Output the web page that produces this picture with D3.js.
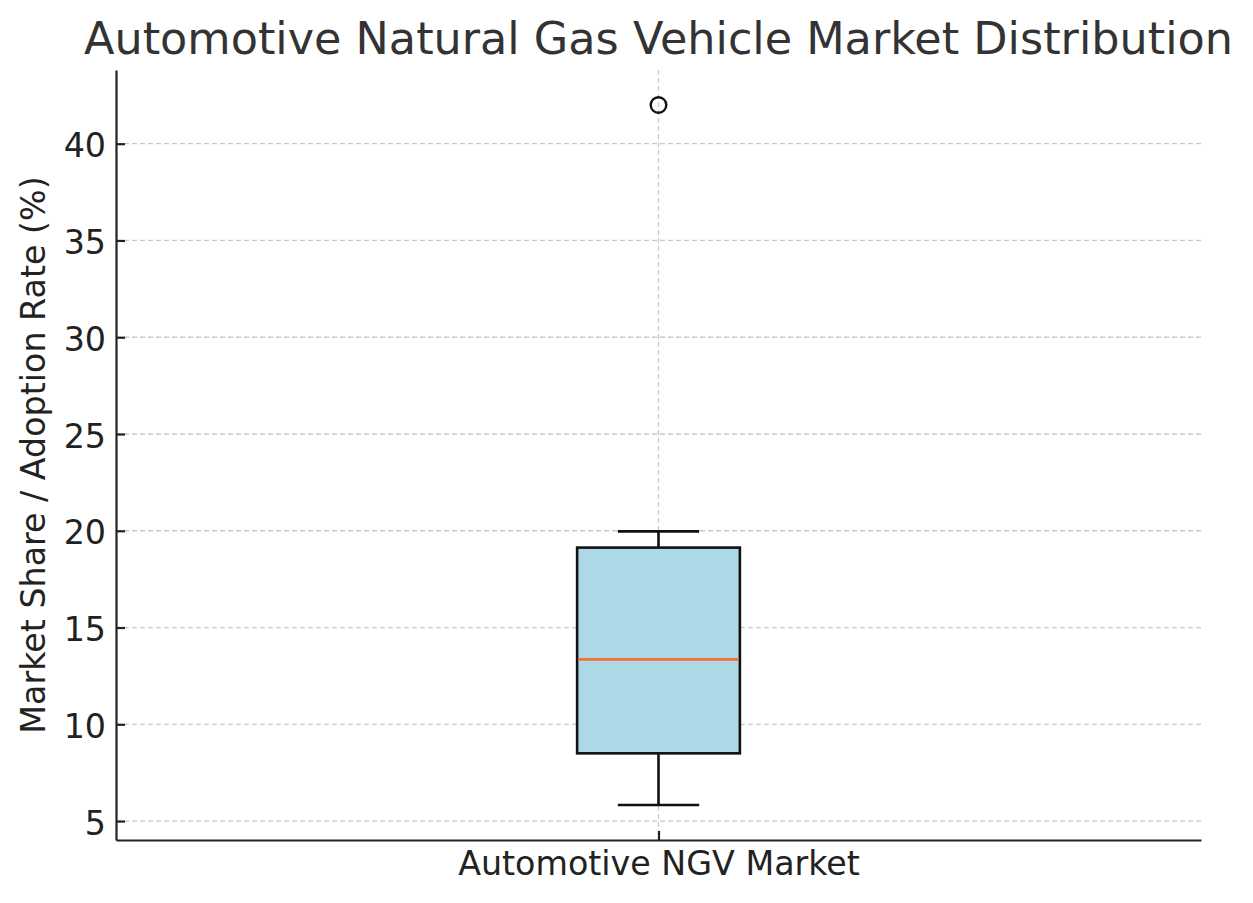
<!DOCTYPE html>
<html>
<head>
<meta charset="utf-8">
<script src="https://cdn.jsdelivr.net/npm/d3@7"></script>
<style>
  html, body { margin: 0; padding: 0; background: #fff; }
  svg { display: block; font-family: "DejaVu Sans", sans-serif; }
</style>
</head>
<body>
<svg id="chart" width="1253" height="903"></svg>
<script>
// ---- data ----
const categories = ["Automotive NGV Market"];
const whiskerLow = [5.83];
const q1Values = [8.5];
const medianValues = [13.35];
const q3Values = [19.13];
const whiskerHigh = [19.97];
const outliers = [[42.0]];
const yTicks = [5, 10, 15, 20, 25, 30, 35, 40];
const titleText = "Automotive Natural Gas Vehicle Market Distribution";
const yLabelText = "Market Share / Adoption Rate (%)";

// ---- layout ----
const W = 1253, H = 903;
const m = { left: 116, right: 52, top: 70, bottom: 63 };
const plotW = W - m.left - m.right;
const plotH = H - m.top - m.bottom;

const svg = d3.select("#chart");
const g = svg.append("g").attr("transform", `translate(${m.left},${m.top})`);

const allVals = whiskerLow.concat(whiskerHigh, outliers.flat());
const lo = d3.min(allVals), hi = d3.max(allVals);
const pad = (hi - lo) * 0.05;
const y = d3.scaleLinear().domain([lo - pad, hi + pad]).range([plotH, 0]);
const x = d3.scaleLinear().domain([0.5, categories.length + 0.5]).range([0, plotW]);

// grid
g.append("g").selectAll("line").data(yTicks).join("line")
  .attr("x1", 0).attr("x2", plotW)
  .attr("y1", d => y(d)).attr("y2", d => y(d))
  .attr("stroke", "#c8c8c8").attr("stroke-width", 1.3).attr("stroke-dasharray", "5,3");
g.append("g").selectAll("line").data(categories).join("line")
  .attr("x1", (d, i) => x(i + 1)).attr("x2", (d, i) => x(i + 1))
  .attr("y1", 0).attr("y2", plotH)
  .attr("stroke", "#c8c8c8").attr("stroke-width", 1.3).attr("stroke-dasharray", "5,3");

// boxes
const boxW = 0.15, capW = 0.075;
categories.forEach((c, i) => {
  const cx = x(i + 1);
  const bw = x(1 + boxW) - x(1);
  const cw = x(1 + capW) - x(1);
  const stroke = "#111";
  // whiskers
  g.append("line").attr("x1", cx).attr("x2", cx).attr("y1", y(q3Values[i])).attr("y2", y(whiskerHigh[i]))
    .attr("stroke", stroke).attr("stroke-width", 2.6);
  g.append("line").attr("x1", cx).attr("x2", cx).attr("y1", y(q1Values[i])).attr("y2", y(whiskerLow[i]))
    .attr("stroke", stroke).attr("stroke-width", 2.6);
  // caps
  g.append("line").attr("x1", cx - cw / 2).attr("x2", cx + cw / 2).attr("y1", y(whiskerHigh[i])).attr("y2", y(whiskerHigh[i]))
    .attr("stroke", stroke).attr("stroke-width", 2.6);
  g.append("line").attr("x1", cx - cw / 2).attr("x2", cx + cw / 2).attr("y1", y(whiskerLow[i])).attr("y2", y(whiskerLow[i]))
    .attr("stroke", stroke).attr("stroke-width", 2.6);
  // box
  g.append("rect").attr("x", cx - bw / 2).attr("width", bw)
    .attr("y", y(q3Values[i])).attr("height", y(q1Values[i]) - y(q3Values[i]))
    .attr("fill", "#add8e6").attr("stroke", stroke).attr("stroke-width", 2.6);
  // median
  g.append("line").attr("x1", cx - bw / 2 + 1).attr("x2", cx + bw / 2 - 1)
    .attr("y1", y(medianValues[i])).attr("y2", y(medianValues[i]))
    .attr("stroke", "#f37032").attr("stroke-width", 2.8);
  // outliers
  g.append("g").selectAll("circle").data(outliers[i]).join("circle")
    .attr("cx", cx).attr("cy", d => y(d)).attr("r", 7.8)
    .attr("fill", "none").attr("stroke", stroke).attr("stroke-width", 2.4);
});

// axes
const yAxis = d3.axisLeft(y).tickValues(yTicks).tickSizeInner(-9).tickSizeOuter(0).tickPadding(10);
const yg = g.append("g").call(yAxis);
const xAxis = d3.axisBottom(x).tickValues(categories.map((c, i) => i + 1))
  .tickFormat((d) => categories[d - 1]).tickSizeInner(-9).tickSizeOuter(0).tickPadding(11);
const xg = g.append("g").attr("transform", `translate(0,${plotH})`).call(xAxis);
[yg, xg].forEach(a => {
  a.select(".domain").attr("stroke", "#222").attr("stroke-width", 2.2);
  a.selectAll(".tick line").attr("stroke", "#222").attr("stroke-width", 2.2);
  a.selectAll(".tick text").attr("fill", "#222").style("font-size", "33.3px")
    .style("font-family", "'DejaVu Sans', sans-serif");
});
yg.selectAll(".tick text").attr("dy", "0.39em");

// title
svg.append("text").attr("x", m.left + plotW / 2).attr("y", 54)
  .attr("text-anchor", "middle").attr("fill", "#333")
  .style("font-size", "44.5px").text(titleText);

// y label
svg.append("text").attr("transform", `translate(45,${m.top + plotH / 2}) rotate(-90)`)
  .attr("text-anchor", "middle").attr("fill", "#222")
  .style("font-size", "33.3px").text(yLabelText);
</script>
</body>
</html>
